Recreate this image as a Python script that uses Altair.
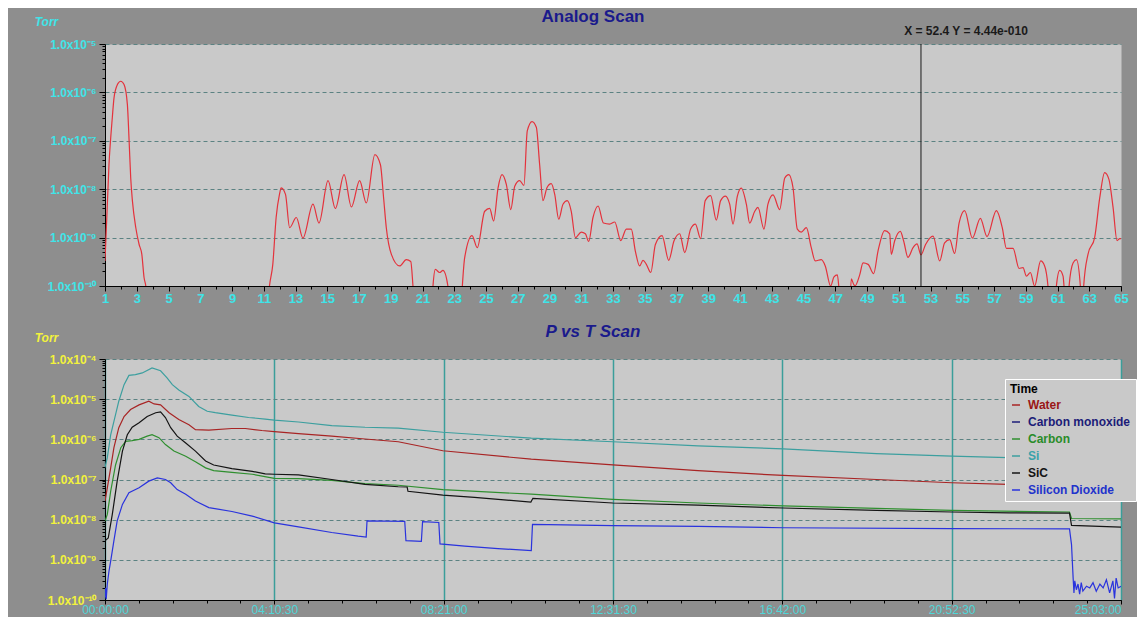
import altair as alt
import pandas as pd

# ---------------- Analog Scan (top) ----------------
scan_mass = [1.0, 1.25, 1.46, 1.57, 1.78, 1.99, 2.2, 2.41, 2.52, 2.62,
             2.73, 2.94, 3.15, 3.32, 3.46, 3.57, 3.8, 11.1, 11.36, 11.57,
             11.78, 11.99, 12.1, 12.37, 12.63, 13.05, 13.47, 14.1, 14.48, 15.05,
             15.51, 16.06, 16.52, 17.04, 17.46, 18.0, 18.35, 18.55, 18.72, 19.04,
             19.56, 19.98, 20.26, 20.4, 20.6, 21.5, 21.66, 21.81, 22.08, 22.29,
             22.6, 22.8, 23.35, 23.51, 23.66, 24.12, 24.45, 24.92, 25.23, 25.48,
             25.76, 26.01, 26.28, 26.56, 26.81, 27.12, 27.39, 27.6, 27.9, 28.17,
             28.38, 28.59, 28.84, 29.11, 29.33, 29.58, 29.85, 30.12, 30.37, 30.63,
             31.0, 31.26, 31.47, 31.74, 32.06, 32.4, 32.79, 33.11, 33.49, 33.84,
             34.15, 34.41, 34.68, 34.89, 35.1, 35.38, 35.67, 36.09, 36.51, 36.84,
             37.2, 37.52, 37.89, 38.19, 38.52, 38.81, 39.15, 39.51, 39.78, 40.08,
             40.35, 40.56, 40.83, 41.08, 41.4, 41.61, 41.93, 42.13, 42.51, 42.76,
             43.08, 43.5, 43.82, 44.07, 44.34, 44.61, 44.86, 45.18, 45.49, 45.74,
             46.12, 46.37, 46.71, 46.92, 47.13, 47.22, 47.4, 47.85, 48.01, 48.15,
             48.24, 48.54, 48.75, 49.07, 49.42, 49.69, 50.11, 50.43, 50.53, 50.74,
             51.1, 51.31, 51.58, 51.9, 52.15, 52.4, 52.69, 53.16, 53.58, 53.89,
             54.21, 54.52, 54.8, 55.15, 55.64, 56.14, 56.56, 57.15, 57.52, 57.78,
             58.2, 58.58, 58.83, 59.04, 59.29, 59.56, 59.94, 60.19, 60.4, 60.6,
             60.75, 60.93, 61.14, 61.35, 61.41, 61.57, 61.73, 61.98, 62.19, 62.44,
             62.52, 62.58, 62.65, 62.92, 63.34, 63.66, 63.97, 64.24, 64.5, 64.75,
             64.92, 65.0]
scan_torr = [3.3e-10, 3.2e-8, 3.0e-7, 7.8e-7, 1.45e-6, 1.7e-6, 1.45e-6, 5.6e-7, 9.8e-8, 1.7e-8,
             5.6e-9, 1.6e-9, 7.2e-10, 4.5e-10, 1.5e-10, 1.0e-10, 1e-11, 1e-11, 1.0e-10, 2.8e-10,
             2.6e-9, 7.8e-9, 1.07e-8, 7.8e-9, 1.6e-9, 2.6e-9, 9.8e-10, 4.9e-9, 2.0e-9, 1.5e-8,
             4.0e-9, 2.0e-8, 4.3e-9, 1.5e-8, 5.2e-9, 5.2e-8, 3.2e-8, 6.6e-9, 1.6e-9, 4.5e-10,
             2.6e-10, 3.5e-10, 3.2e-10, 1.0e-10, 1e-11, 1e-11, 1.0e-10, 2.2e-10, 1.9e-10, 2.1e-10,
             1.0e-10, 1e-11, 1e-11, 1.0e-10, 3.9e-10, 1.1e-9, 6.2e-10, 3.5e-9, 4.0e-9, 2.2e-9,
             1.07e-8, 2.0e-8, 1.26e-8, 3.8e-9, 1.15e-8, 1.5e-8, 1.2e-8, 1.6e-7, 2.5e-7, 1.9e-7,
             3.2e-8, 5.8e-9, 1.07e-8, 1.3e-8, 7.8e-9, 2.4e-9, 4.9e-9, 5.8e-9, 3.5e-9, 1.0e-9,
             1.3e-9, 1.2e-9, 8.3e-10, 2.6e-9, 4.5e-9, 2.0e-9, 1.9e-9, 2.1e-9, 8.7e-10, 1.5e-9,
             1.5e-9, 5.2e-10, 2.6e-10, 3.4e-10, 2.8e-10, 1.9e-10, 7.2e-10, 1.1e-9, 3.4e-10, 8.5e-10,
             1.2e-9, 4.9e-10, 1.5e-9, 1.9e-9, 9.5e-10, 5.8e-9, 7.4e-9, 2.3e-9, 5.8e-9, 7.2e-9,
             4.9e-9, 1.9e-9, 7.1e-9, 1.05e-8, 4.9e-9, 2.0e-9, 3.5e-9, 4.2e-9, 1.5e-9, 4.9e-9,
             7.6e-9, 3.8e-9, 1.7e-8, 2.0e-8, 1.07e-8, 1.5e-9, 1.3e-9, 1.6e-9, 6.2e-10, 3.3e-10,
             3.5e-10, 2.6e-10, 1.0e-10, 1.55e-10, 1.7e-10, 1.0e-10, 1e-11, 1e-11, 1.4e-10, 1.1e-10,
             1.0e-10, 1.7e-10, 3.0e-10, 2.8e-10, 1.8e-10, 5.2e-10, 1.4e-9, 1.2e-9, 4.5e-10, 8.5e-10,
             1.35e-9, 8.5e-10, 3.9e-10, 6.2e-10, 7.4e-10, 4.4e-10, 7.2e-10, 1.07e-9, 3.3e-10, 7.8e-10,
             9.1e-10, 4.7e-10, 2.0e-9, 3.6e-9, 9.8e-10, 2.5e-9, 1.05e-9, 3.6e-9, 1.6e-9, 6.0e-10,
             6.0e-10, 2.3e-10, 2.4e-10, 1.6e-10, 1.9e-10, 1.0e-10, 3.3e-10, 2.6e-10, 1.0e-10, 1e-11,
             1e-11, 1.0e-10, 2.1e-10, 1.6e-10, 1.0e-10, 1e-11, 1.0e-10, 3.0e-10, 3.5e-10, 1.0e-10,
             1e-11, 1e-11, 1.0e-10, 4.5e-10, 1.0e-9, 6.6e-9, 2.2e-8, 1.6e-8, 4.2e-9, 8.7e-10,
             9.5e-10, 9.5e-10]
cursor_mass = [52.4]
cursor_text = ["X = 52.4 Y = 4.44e-010"]
mass_ticks = list(range(1, 66, 2))
mass_minor = list(range(1, 66))
top_decades = [1e-10, 1e-9, 1e-8, 1e-7, 1e-6, 1e-5]
top_labels = ["1.0x10⁻¹⁰", "1.0x10⁻⁹", "1.0x10⁻⁸", "1.0x10⁻⁷", "1.0x10⁻⁶", "1.0x10⁻⁵"]
panel_titles = ["Analog Scan", "P vs T Scan"]

# ---------------- P vs T Scan (bottom) ----------------
series_names = ["Water", "Carbon monoxide", "Carbon", "Si", "SiC", "Silicon Dioxide"]
series_colors = ["#a82424", "#1c1c78", "#2f8f2f", "#3c9f9f", "#141414", "#2a33dd"]
label_colors = ["#9a1616", "#1c1c78", "#2a8c2a", "#3aa2aa", "#141414", "#2233cc"]

water_t = [0, 0.057, 0.14, 0.22, 0.34, 0.47, 0.63, 0.84, 1.08, 1.21,
           1.37, 1.58, 1.82, 2.07, 2.23, 2.56, 3.13, 3.46, 3.87, 4.175,
           4.77, 5.59, 6.41, 7.23, 8.33, 10.51, 12.52, 14.62, 16.72, 19.02,
           20.88, 22.26, 25.05]
water_p = [2.9e-8, 6.2e-8, 1.95e-7, 6.2e-7, 1.95e-6, 3.7e-6, 5.5e-6, 7.2e-6, 8.9e-6, 7.6e-6,
           7.2e-6, 4.6e-6, 3.1e-6, 2.3e-6, 1.74e-6, 1.7e-6, 1.86e-6, 1.86e-6, 1.66e-6, 1.55e-6,
           1.38e-6, 1.2e-6, 1.02e-6, 8.7e-7, 5.2e-7, 3.2e-7, 2.3e-7, 1.66e-7, 1.26e-7, 1.0e-7,
           8.3e-8, 7.6e-8, 6.6e-8]

carbon_t = [0, 0.057, 0.14, 0.26, 0.39, 0.51, 0.67, 0.84, 1.04, 1.16,
            1.33, 1.49, 1.70, 1.99, 2.23, 2.48, 2.68, 3.13, 3.63, 4.175,
            4.77, 5.59, 6.41, 7.23, 8.33, 10.51, 12.52, 14.62, 16.72, 19.02,
            20.88, 23.78, 23.83, 25.05]
carbon_p = [9.3e-9, 1.35e-8, 5.1e-8, 2.3e-7, 6.2e-7, 8.9e-7, 9.3e-7, 1.0e-6, 1.2e-6, 1.3e-6,
            1.1e-6, 7.4e-7, 5.1e-7, 3.8e-7, 2.75e-7, 1.95e-7, 1.66e-7, 1.5e-7, 1.35e-7, 1.07e-7,
            1.05e-7, 9.5e-8, 7.9e-8, 7.2e-8, 5.6e-8, 4.3e-8, 3.2e-8, 2.6e-8, 2.2e-8, 1.9e-8,
            1.7e-8, 1.55e-8, 1.07e-8, 1.05e-8]

si_t = [0, 0.057, 0.14, 0.22, 0.34, 0.47, 0.59, 0.75, 0.92, 1.16,
        1.37, 1.53, 1.66, 1.82, 2.07, 2.31, 2.52, 2.72, 3.13, 3.54,
        3.95, 4.175, 4.77, 5.59, 6.41, 7.23, 8.33, 10.51, 12.52, 14.62,
        16.72, 19.02, 20.88, 22.26, 25.05]
si_p = [2.0e-7, 3.5e-7, 1.3e-6, 2.8e-6, 8.9e-6, 2.3e-5, 3.9e-5, 4.1e-5, 4.5e-5, 6.0e-5,
        5.1e-5, 3.4e-5, 2.3e-5, 1.7e-5, 1.17e-5, 6.6e-6, 5.0e-6, 4.6e-6, 4.0e-6, 3.5e-6,
        3.2e-6, 3.0e-6, 2.7e-6, 2.2e-6, 2.0e-6, 1.9e-6, 1.5e-6, 1.07e-6, 8.7e-7, 6.9e-7,
        5.8e-7, 4.4e-7, 3.8e-7, 3.5e-7, 3.0e-7]

sic_t = [0, 0.08, 0.18, 0.30, 0.43, 0.55, 0.67, 0.84, 1.04, 1.25,
         1.37, 1.49, 1.62, 1.78, 1.99, 2.23, 2.48, 2.68, 3.13, 3.63,
         3.95, 4.175, 4.77, 5.59, 6.41, 7.23, 7.45, 7.47, 8.33, 9.11,
         10.50, 10.55, 12.52, 14.62, 16.72, 19.02, 20.88, 22.30, 23.78, 23.83,
         25.05]
sic_p = [3.0e-9, 3.5e-9, 1.35e-8, 9.1e-8, 5.1e-7, 1.3e-6, 2.0e-6, 2.6e-6, 3.7e-6, 4.6e-6,
         4.8e-6, 3.5e-6, 1.95e-6, 1.2e-6, 8.1e-7, 5.1e-7, 2.9e-7, 2.3e-7, 1.86e-7, 1.6e-7,
         1.38e-7, 1.35e-7, 1.3e-7, 1.0e-7, 7.6e-8, 6.6e-8, 6.5e-8, 5.1e-8, 4.1e-8, 3.6e-8,
         2.75e-8, 3.4e-8, 2.6e-8, 2.3e-8, 1.95e-8, 1.7e-8, 1.55e-8, 1.48e-8, 1.45e-8, 7.2e-9,
         6.5e-9]

sio2_t = [0, 0.015, 0.03, 0.057, 0.098, 0.14, 0.22, 0.30, 0.43, 0.59,
          0.84, 1.08, 1.29, 1.49, 1.62, 1.78, 1.99, 2.23, 2.56, 3.13,
          3.63, 4.175, 4.77, 5.59, 6.24, 6.44, 6.46, 7.39, 7.42, 7.80,
          7.83, 8.23, 8.26, 8.87, 9.69, 10.51, 10.54, 12.52, 14.62, 16.72,
          20.88, 23.78, 23.83, 23.87, 23.89, 23.91, 23.95, 23.99, 24.03, 24.07,
          24.11, 24.20, 24.28, 24.36, 24.44, 24.53, 24.61, 24.69, 24.77, 24.85,
          24.89, 24.93, 24.98, 25.05]
sio2_p = [1.15e-10, 2.0e-10, 1.05e-10, 2.5e-10, 5.2e-10, 9.3e-10, 3.0e-9, 9.3e-9, 2.4e-8, 4.7e-8,
          6.2e-8, 9.1e-8, 1.1e-7, 1.0e-7, 8.3e-8, 5.6e-8, 4.3e-8, 2.9e-8, 2.0e-8, 1.6e-8,
          1.23e-8, 8.3e-9, 6.6e-9, 4.8e-9, 3.9e-9, 3.7e-9, 9.3e-9, 9.1e-9, 3.0e-9, 2.9e-9,
          8.9e-9, 8.5e-9, 2.5e-9, 2.2e-9, 1.9e-9, 1.7e-9, 7.6e-9, 7.1e-9, 6.8e-9, 6.3e-9,
          6.0e-9, 5.9e-9, 2.4e-9, 3.5e-10, 1.5e-10, 3.0e-10, 1.8e-10, 2.5e-10, 1.4e-10, 2.7e-10,
          1.66e-10, 2.2e-10, 2.0e-10, 2.7e-10, 1.66e-10, 2.5e-10, 2.0e-10, 3.2e-10, 1.5e-10, 3.0e-10,
          1.1e-10, 3.5e-10, 2.0e-10, 2.2e-10]

time_ticks = [0, 4.175, 8.35, 12.525, 16.7, 20.875, 25.05]
time_labels = ["00:00:00", "04:10:30", "08:21:00", "12:31:30", "16:42:00", "20:52:30", "25:03:00"]
time_minor = [i * 0.835 for i in range(31)]
bottom_decades = [1e-10, 1e-9, 1e-8, 1e-7, 1e-6, 1e-5, 1e-4]
bottom_labels = ["1.0x10⁻¹⁰", "1.0x10⁻⁹", "1.0x10⁻⁸", "1.0x10⁻⁷", "1.0x10⁻⁶", "1.0x10⁻⁵", "1.0x10⁻⁴"]

# ---------------- styling ----------------
FONT = "Liberation Sans"
BG = "#8e8e8e"
PLOT_BG = "#c9c9c9"
CYAN = "#3fe4e8"
CYAN2 = "#4fd6d8"
YELLOW = "#f2f23c"
NAVY = "#1a1a8c"
GRID = "#5b8282"
TEAL = "#3a9e9a"
W = 1016


def js_array(items):
    return "[" + ",".join("'" + s + "'" for s in items) + "]"


def log_label_expr(labels):
    return js_array(labels) + "[round(log(datum.value)/LN10)+10]"


def log_minor(lo, hi):
    return [k * 10.0 ** e for e in range(lo, hi) for k in range(2, 10)]


def panel_title(text, italic):
    df = pd.DataFrame({"title": [text]})
    return alt.Chart(df).mark_text(
        font=FONT, fontSize=17, fontWeight="bold", fontStyle="italic" if italic else "normal",
        color=NAVY, align="center", baseline="middle"
    ).encode(text="title:N", x=alt.value(488), y=alt.value(-27))


# ---------------- top chart ----------------
top_df = pd.DataFrame({"mass": scan_mass, "torr": scan_torr})
cursor_df = pd.DataFrame({"mass": cursor_mass, "label": cursor_text})
x_top = alt.Scale(domain=[1, 65], nice=False, zero=False)
y_top = alt.Scale(type="log", domain=[1e-10, 1e-5], nice=False)

top_line = alt.Chart(top_df).mark_line(
    color="#e4323c", strokeWidth=1.2, clip=True, interpolate="monotone"
).encode(
    x=alt.X("mass:Q", scale=x_top, axis=alt.Axis(
        values=mass_ticks, title=None, grid=False, labelColor=CYAN, labelFont=FONT,
        labelFontSize=13, labelFontWeight="bold", tickColor="black", tickSize=5,
        labelPadding=1, domainColor="black", labelFlush=False, labelOverlap=False)),
    y=alt.Y("torr:Q", scale=y_top, axis=alt.Axis(
        values=top_decades, labelExpr=log_label_expr(top_labels), title="Torr",
        titleAngle=0, titleX=-59, titleY=-23, titleAlign="center", titleBaseline="middle",
        titleColor=CYAN, titleFont=FONT, titleFontSize=12, titleFontWeight="bold",
        titleFontStyle="italic", labelColor=CYAN, labelFont=FONT, labelFontSize=12,
        labelFontWeight="bold", grid=True, gridColor=GRID, gridDash=[4, 3], gridWidth=1,
        tickColor="black", tickSize=6, domainColor="black", labelPadding=3)),
)

top_minor = alt.Chart(top_df).mark_line(opacity=0, clip=True).encode(
    x=alt.X("mass:Q", scale=x_top, axis=alt.Axis(
        values=mass_minor, labels=False, title=None, grid=False, domain=False,
        tickColor="black", tickSize=3, orient="bottom")),
    y=alt.Y("torr:Q", scale=y_top, axis=alt.Axis(
        values=log_minor(-10, -5), labels=False, title=None, grid=False, domain=False,
        tickColor="black", tickSize=3, orient="left")),
)

cursor_rule = alt.Chart(cursor_df).mark_rule(color="#1a1a1a", strokeWidth=1).encode(
    x=alt.X("mass:Q", scale=x_top, axis=None)
)
cursor_label = alt.Chart(cursor_df).mark_text(
    font=FONT, fontSize=12, fontWeight="bold", color="#1a1a1a", dx=45, baseline="middle"
).encode(
    x=alt.X("mass:Q", scale=x_top, axis=None), y=alt.value(-13), text="label:N"
)

top = alt.layer(
    top_line, top_minor, cursor_rule, cursor_label, panel_title(panel_titles[0], False)
).resolve_axis(x="independent", y="independent").properties(width=W, height=242)

# ---------------- bottom chart ----------------
frames = []
for name, ts, ps in [("Water", water_t, water_p), ("Carbon", carbon_t, carbon_p),
                     ("Si", si_t, si_p), ("SiC", sic_t, sic_p),
                     ("Silicon Dioxide", sio2_t, sio2_p)]:
    frames.append(pd.DataFrame({"t": ts, "p": ps, "series": name}))
pvt_df = pd.concat(frames, ignore_index=True)

x_bot = alt.Scale(domain=[0, 25.05], nice=False, zero=False)
y_bot = alt.Scale(type="log", domain=[1e-10, 1e-4], nice=False)

label_color_expr = js_array(label_colors) + "[indexof(" + js_array(series_names) + ", datum.label)]"
time_label_expr = js_array(time_labels) + "[round(datum.value/4.175)]"

pvt_line = alt.Chart(pvt_df).mark_line(strokeWidth=1.2, clip=True).encode(
    x=alt.X("t:Q", scale=x_bot, axis=alt.Axis(
        values=time_ticks, labelExpr=time_label_expr, title=None, grid=True,
        gridColor=TEAL, gridWidth=1.5, labelColor=CYAN2, labelFont=FONT, labelFontSize=12,
        labelAlign=alt.condition("datum.value > 25", alt.value("right"), alt.value("center")),
        tickColor="black", tickSize=4, labelPadding=0, domainColor="black",
        labelFlush=False, labelOverlap=False)),
    y=alt.Y("p:Q", scale=y_bot, axis=alt.Axis(
        values=bottom_decades, labelExpr=log_label_expr(bottom_labels), title="Torr",
        titleAngle=0, titleX=-59, titleY=-22, titleAlign="center", titleBaseline="middle",
        titleColor=YELLOW, titleFont=FONT, titleFontSize=12, titleFontWeight="bold",
        titleFontStyle="italic", labelColor=YELLOW, labelFont=FONT, labelFontSize=12,
        labelFontWeight="bold", grid=True, gridColor=GRID, gridDash=[4, 3], gridWidth=1,
        tickColor="black", tickSize=6, domainColor="black", labelPadding=3)),
    color=alt.Color("series:N", scale=alt.Scale(domain=series_names, range=series_colors),
                    legend=alt.Legend(
                        title="Time", orient="none", legendX=900, legendY=20,
                        direction="vertical", fillColor=PLOT_BG, strokeColor="white",
                        padding=5, symbolType="stroke", symbolStrokeWidth=1.5,
                        symbolSize=64, titleColor="black", titleFont=FONT,
                        titleFontSize=12, titleFontWeight="bold", titlePadding=3,
                        labelFont=FONT, labelFontSize=12, labelFontWeight="bold",
                        labelColor={"expr": label_color_expr}, rowPadding=5,
                        labelLimit=200, labelOffset=6)),
)

pvt_minor = alt.Chart(pvt_df).mark_line(opacity=0, clip=True).encode(
    x=alt.X("t:Q", scale=x_bot, axis=alt.Axis(
        values=time_minor, labels=False, title=None, grid=False, domain=False,
        tickColor="black", tickSize=3, orient="bottom")),
    y=alt.Y("p:Q", scale=y_bot, axis=alt.Axis(
        values=log_minor(-10, -4), labels=False, title=None, grid=False, domain=False,
        tickColor="black", tickSize=3, orient="left")),
    detail="series:N",
)

bottom = alt.layer(
    pvt_line, pvt_minor, panel_title(panel_titles[1], True)
).resolve_axis(x="independent", y="independent").properties(width=W, height=241)

chart = alt.vconcat(top, bottom, spacing=18).resolve_scale(color="independent").configure(
    background=BG,
    padding={"left": 26, "top": 0, "right": 0, "bottom": 2},
).configure_view(fill=PLOT_BG, strokeOpacity=0)

chart.save("out.html", embed_options={"renderer": "svg", "actions": False})
